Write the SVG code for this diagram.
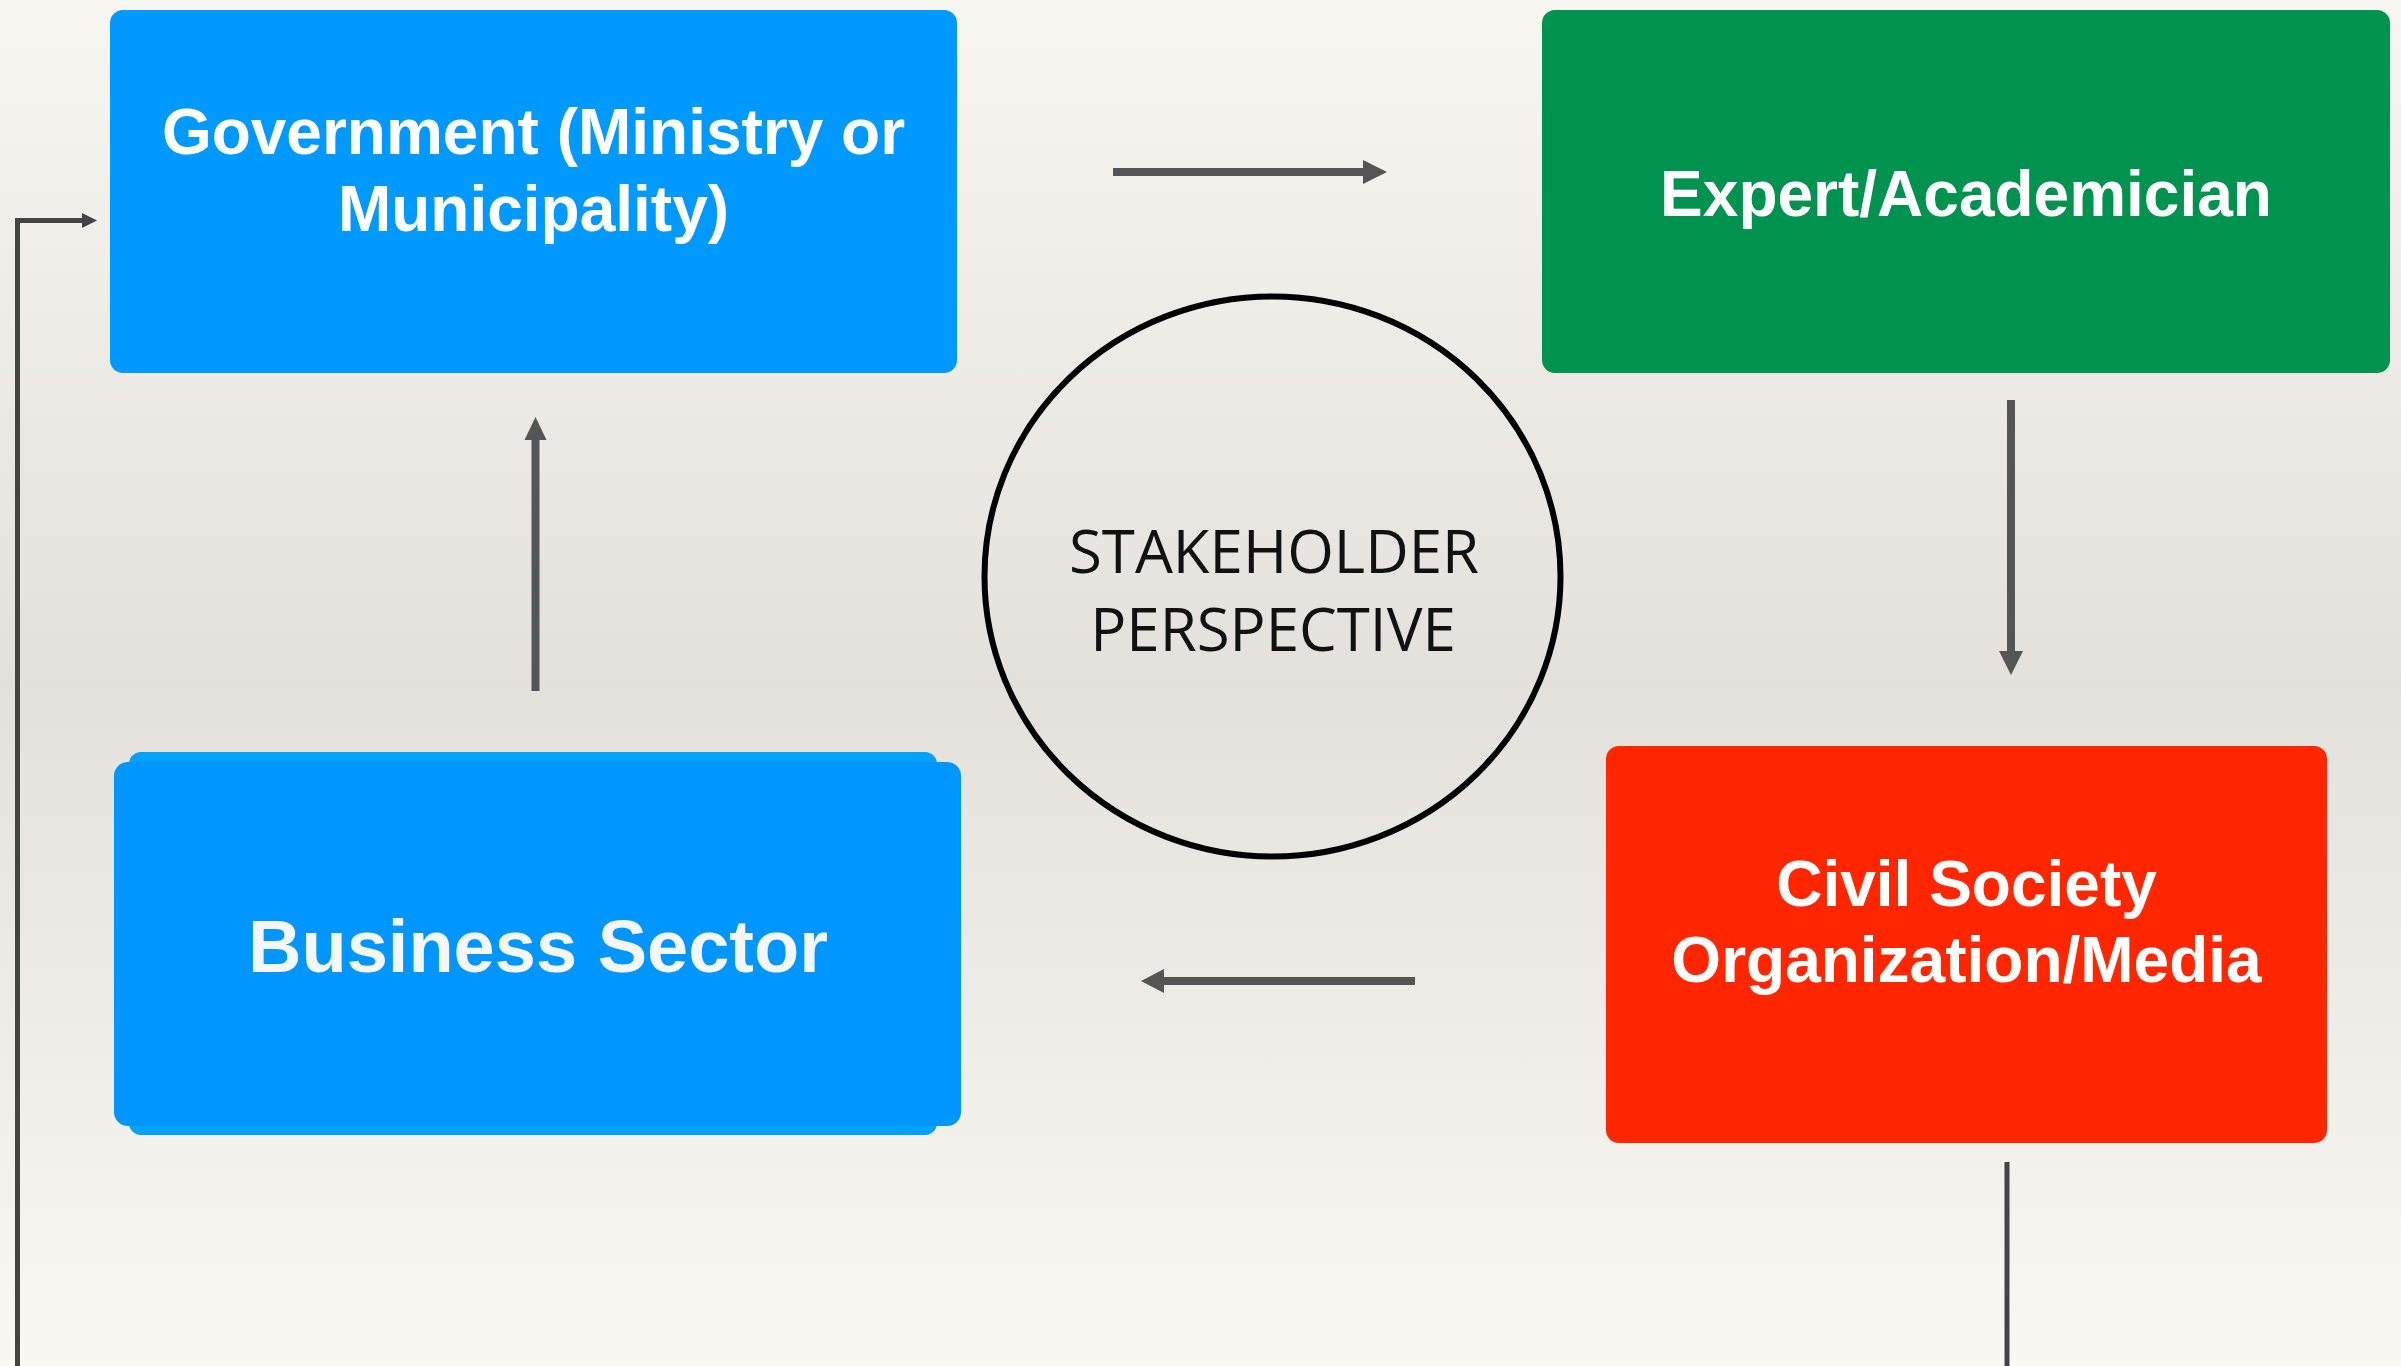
<svg xmlns="http://www.w3.org/2000/svg" width="2401" height="1366" viewBox="0 0 2401 1366">
<defs>
<linearGradient id="bg" x1="0" y1="0" x2="0" y2="1">
<stop offset="0" stop-color="#F8F6F1"/>
<stop offset="0.5" stop-color="#E4E1DC"/>
<stop offset="1" stop-color="#F9F8F2"/>
</linearGradient>
</defs>
<style>
.lbl{font-family:"Liberation Sans",Arial,sans-serif;font-weight:bold;fill:#FFFFFF;text-anchor:middle}
.arr{stroke:#555;stroke-width:8;fill:none}
.head{fill:#555}
.loop{stroke:#444;stroke-width:5;fill:none}
.ctr{font-family:"Open Sans","Noto Sans",sans-serif;font-size:60px;fill:#111;text-anchor:middle}
</style>
<rect x="0" y="0" width="2401" height="1366" fill="url(#bg)"/>
<g id="connectors">
<path class="arr" d="M1113,172 H1364"/>
<polygon class="head" points="1363,160 1387,172 1363,184"/>
<path class="arr" d="M2011,400 V652"/>
<polygon class="head" points="1999,651 2011,675 2023,651"/>
<path class="arr" d="M1415,981 H1163"/>
<polygon class="head" points="1164,969 1141,981 1164,993"/>
<path class="arr" d="M535.5,691 V439"/>
<polygon class="head" points="524.5,440 535.5,417 546.5,440"/>
<path class="loop" d="M2007,1162 V1366"/>
<path class="loop" d="M17.5,1366 V220.5 H84"/>
<polygon fill="#444" points="82,213 97,220.5 82,228"/>
</g>
<g id="government">
<rect x="110" y="10" width="847" height="363" rx="13" fill="#0099FF"/>
<text class="lbl" x="533.5" y="154" font-size="64">Government (Ministry or</text>
<text class="lbl" x="533.5" y="231" font-size="64">Municipality)</text>
</g>
<g id="expert">
<rect x="1542" y="10" width="848" height="363" rx="13" fill="#00924F"/>
<text class="lbl" x="1966" y="216" font-size="64">Expert/Academician</text>
</g>
<g id="civil">
<rect x="1606" y="746" width="721" height="397" rx="13" fill="#FF2600"/>
<text class="lbl" x="1966.5" y="906" font-size="64">Civil Society</text>
<text class="lbl" x="1966.5" y="982" font-size="64">Organization/Media</text>
</g>
<g id="business">
<rect x="129" y="752" width="808" height="383" rx="12" fill="#00A2FF"/>
<rect x="114" y="762" width="847" height="364" rx="14" fill="#0096FF"/>
<text class="lbl" x="538" y="972" font-size="74" style="fill:#F4F6F8">Business Sector</text>
</g>
<g id="stakeholder">
<ellipse cx="1272.5" cy="576.5" rx="288" ry="280" fill="none" stroke="#000" stroke-width="6"/>
<text class="ctr" x="1274" y="573">STAKEHOLDER</text>
<text class="ctr" x="1273" y="651">PERSPECTIVE</text>
</g>
</svg>
